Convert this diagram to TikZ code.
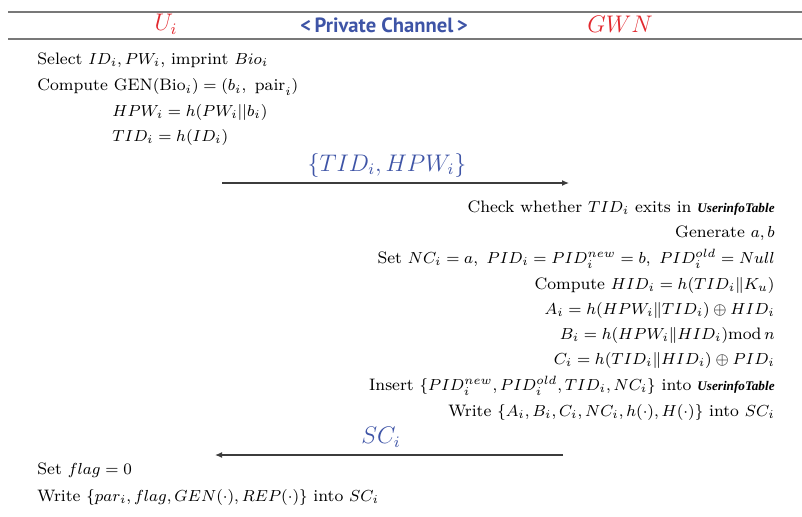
\documentclass[tikz,border=0pt]{standalone}
\usepackage{amsmath,amssymb}
\usepackage{fontspec}
\newfontfamily\chanfont{PT Sans}
\newfontfamily\tablefont{Liberation Serif}
\usetikzlibrary{arrows.meta}
\definecolor{actred}{RGB}{226,40,46}
\definecolor{msgblue}{RGB}{62,84,166}
\definecolor{rulegray}{RGB}{120,120,120}
\definecolor{arrgray}{RGB}{60,60,60}
\newcommand{\utable}{{\tablefont\bfseries\itshape\fontsize{6.6}{8}\selectfont UserinfoTable}}
\tikzset{
  txt/.style={inner sep=0pt, font=\fontsize{8.3}{10}\selectfont},
  lefttxt/.style={txt, anchor=west},
  righttxt/.style={txt, anchor=east},
  actor/.style={inner sep=0pt, text=actred, font=\fontsize{12}{14}\selectfont},
  msg/.style={inner sep=0pt, text=msgblue, font=\fontsize{12}{14}\selectfont},
  hrule/.style={draw=rulegray, line width=1pt},
  msgarrow/.style={draw=arrgray, line width=0.6pt, -{Latex[length=3.5pt,width=3pt]}}
}
\begin{document}
\begin{tikzpicture}[x=0.5pt,y=-0.5pt]
\useasboundingbox (0,0) rectangle (802,516);

% header rules
\coordinate (r1a) at (8,12);  \coordinate (r1b) at (802,12);
\coordinate (r2a) at (8,39);  \coordinate (r2b) at (802,39);
\draw[hrule] (r1a) -- (r1b);
\draw[hrule] (r2a) -- (r2b);

% header
\node[actor] (u) at (166,24) {$U_i$};
\node[inner sep=0pt, text=msgblue, font=\chanfont\bfseries\fontsize{10.3}{12}\selectfont] (pc) at (384,25) {<\,Private Channel\,>};
\node[actor] (g) at (620,24) {$GWN$};

% user side, registration request
\node[lefttxt] (l1) at (37,60) {Select $ID_i, PW_i$, imprint $Bio_i$};
\node[lefttxt] (l2) at (37,87) {Compute $\mathrm{GEN}(\mathrm{Bio}_i)=(b_i,\ \mathrm{pair}_i)$};
\node[lefttxt] (l3) at (112,112) {$HPW_i=h(PW_i||b_i)$};
\node[lefttxt] (l4) at (112,137) {$TID_i=h(ID_i)$};

% first message
\node[msg] (m1) at (387,165) {$\{TID_i, HPW_i\}$};
\coordinate (a1s) at (222,183);
\coordinate (a1e) at (569,183);
\draw[msgarrow] (a1s) -- (a1e);

% gateway side
\node[righttxt] (r1) at (775,208) {Check whether $TID_i$ exits in \utable};
\node[righttxt] (r2) at (775,233) {Generate $a,b$};
\node[righttxt] (r3) at (775,259) {Set $NC_i=a,\ PID_i=PID_i^{new}=b,\ PID_i^{old}=Null$};
\node[righttxt] (r4) at (775,285) {Compute $HID_i=h(TID_i\|K_u)$};
\node[righttxt] (r5) at (775,310) {$A_i=h(HPW_i\|TID_i)\oplus HID_i$};
\node[righttxt] (r6) at (775,335) {$B_i=h(HPW_i\|HID_i)\mathrm{mod}\,n$};
\node[righttxt] (r7) at (775,360) {$C_i=h(TID_i\|HID_i)\oplus PID_i$};
\node[righttxt] (r8) at (775,386) {Insert $\{PID_i^{new},PID_i^{old},TID_i,NC_i\}$ into \utable};
\node[righttxt] (r9) at (775,412) {Write $\{A_i,B_i,C_i,NC_i,h(\cdot),H(\cdot)\}$ into $SC_i$};

% second message
\node[msg] (m2) at (381,437) {$SC_i$};
\coordinate (a2s) at (563,455);
\coordinate (a2e) at (215,455);
\draw[msgarrow] (a2s) -- (a2e);

% user side, card storage
\node[lefttxt] (l5) at (37,470) {Set $flag=0$};
\node[lefttxt] (l6) at (37,497) {Write $\{par_i,flag,GEN(\cdot),REP(\cdot)\}$ into $SC_i$};
\end{tikzpicture}
\end{document}
